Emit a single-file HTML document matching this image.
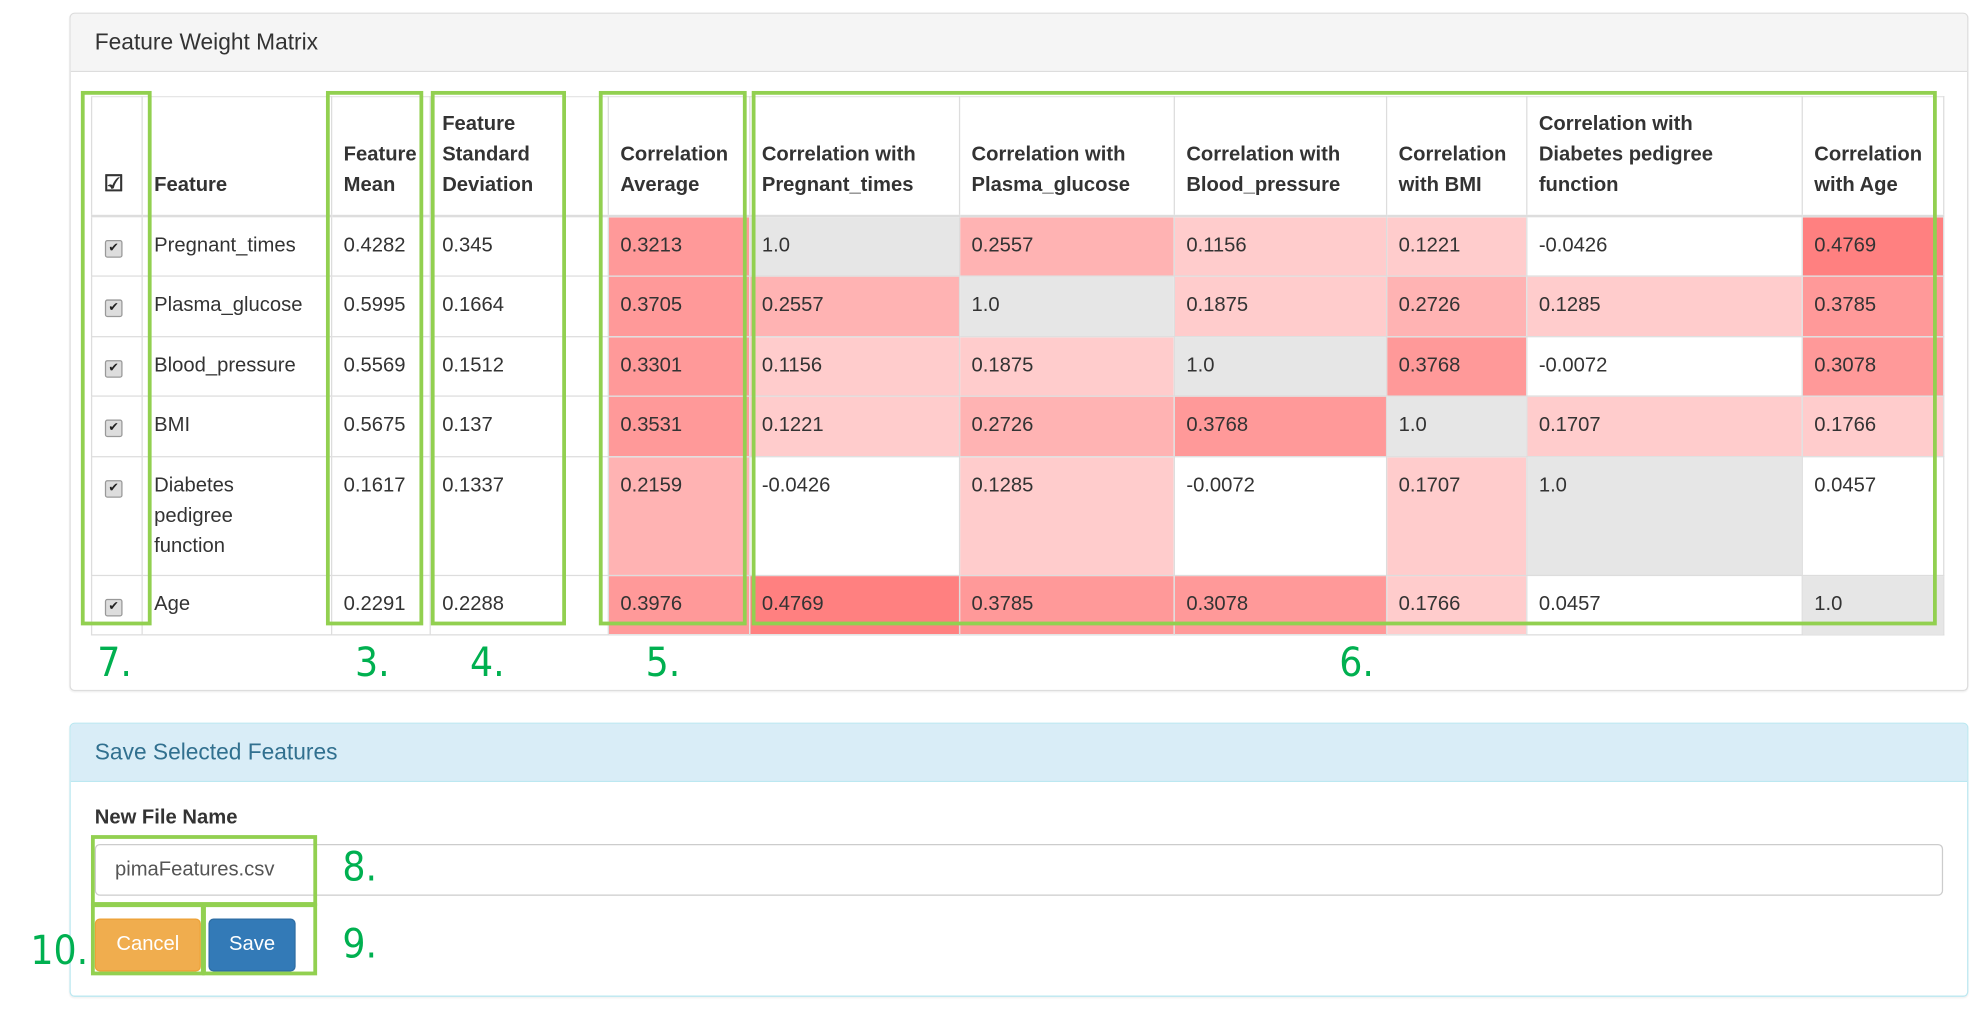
<!DOCTYPE html>
<html><head><meta charset="utf-8">
<style>
html,body{margin:0;padding:0;background:#fff;width:1981px;height:1015px;overflow:hidden;}
#wrap{position:absolute;left:0;top:0;width:1568px;height:804px;transform:scale(1.2634);transform-origin:0 0;font-family:"Liberation Sans",Arial,sans-serif;color:#333;}
.panel{position:absolute;border:1px solid #ddd;border-radius:4px;background:#fff;box-shadow:0 1px 1px rgba(0,0,0,.05);}
.ph{height:45px;border-bottom:1px solid #ddd;background:#f5f5f5;font-size:18px;line-height:45px;padding-left:19px;color:#333;border-radius:3px 3px 0 0;}
table{position:absolute;left:16px;top:65px;border-collapse:collapse;table-layout:fixed;font-size:16px;}
td,th{border:1px solid #ddd;box-sizing:border-box;padding:0 9px;line-height:24px;vertical-align:top;overflow:hidden;white-space:nowrap;}
th{text-align:left;vertical-align:bottom;padding-bottom:11px;border-top:1px solid #e6e6e6;border-bottom:2px solid #ddd;white-space:normal;}
td{padding-top:11px;}
.g{position:absolute;border:3px solid #92d050;box-sizing:border-box;}
.n{position:absolute;color:#00b050;font-size:32px;font-family:"DejaVu Sans Condensed","Liberation Sans",sans-serif;line-height:32px;}
.cb{display:inline-block;width:12px;height:12px;border:1px solid #999;border-radius:2px;background:#ddd;font-size:10px;line-height:12px;text-align:center;color:#222;margin-left:1px;}
</style></head><body>
<div id="wrap">
 <div class="panel" style="left:55px;top:10px;width:1501px;height:535px;">
  <div class="ph">Feature Weight Matrix</div>
  <table id="tbl"></table>
 </div>
 <div class="panel" style="left:55px;top:572px;width:1501px;height:215px;border-color:#bce8f1;">
  <div class="ph" style="background:#d9edf7;color:#31708f;border-bottom-color:#bce8f1;">Save Selected Features</div>
  <div style="position:absolute;left:19px;top:66px;font-size:16px;font-weight:bold;">New File Name</div>
  <div style="position:absolute;left:19px;top:95px;width:1463px;height:41px;border:1px solid #ccc;border-radius:4px;box-sizing:border-box;font-size:16px;line-height:39px;padding-left:15px;color:#555;">pimaFeatures.csv</div>
  <div style="position:absolute;left:19px;top:154px;width:84px;height:42px;background:#f0ad4e;border:1px solid #eea236;border-radius:4px;box-sizing:border-box;color:#fff;font-size:16px;line-height:40px;text-align:center;">Cancel</div>
  <div style="position:absolute;left:109px;top:154px;width:69px;height:42px;background:#337ab7;border:1px solid #2e6da4;border-radius:4px;box-sizing:border-box;color:#fff;font-size:16px;line-height:40px;text-align:center;">Save</div>
 </div>
 <div class="g" style="left:64px;top:72px;width:56px;height:423px;"></div>
 <div class="g" style="left:258px;top:72px;width:77px;height:423px;"></div>
 <div class="g" style="left:341px;top:72px;width:107px;height:423px;"></div>
 <div class="g" style="left:474px;top:72px;width:117px;height:423px;"></div>
 <div class="g" style="left:595px;top:72px;width:938px;height:423px;"></div>
 <div class="g" style="left:72px;top:661px;width:179px;height:56px;"></div>
 <div class="g" style="left:72px;top:715px;width:90px;height:57px;"></div>
 <div class="g" style="left:160px;top:715px;width:91px;height:57px;"></div>
 <div class="n" style="left:77px;top:508px;">7.</div>
 <div class="n" style="left:281px;top:508px;">3.</div>
 <div class="n" style="left:372px;top:508px;">4.</div>
 <div class="n" style="left:511px;top:508px;">5.</div>
 <div class="n" style="left:1060px;top:508px;">6.</div>
 <div class="n" style="left:271px;top:670px;">8.</div>
 <div class="n" style="left:271px;top:731px;">9.</div>
 <div class="n" style="left:24px;top:736px;">10.</div>
</div>
<script>
const features = ["Pregnant_times","Plasma_glucose","Blood_pressure","BMI","Diabetes pedigree function","Age"];
const means = ["0.4282","0.5995","0.5569","0.5675","0.1617","0.2291"];
const stds = ["0.345","0.1664","0.1512","0.137","0.1337","0.2288"];
const corrAvg = ["0.3213","0.3705","0.3301","0.3531","0.2159","0.3976"];
const corrHeaders = ["Correlation with Pregnant_times","Correlation with Plasma_glucose","Correlation with Blood_pressure","Correlation with BMI","Correlation with Diabetes pedigree function","Correlation with Age"];
const corr = [
 ["1.0","0.2557","0.1156","0.1221","-0.0426","0.4769"],
 ["0.2557","1.0","0.1875","0.2726","0.1285","0.3785"],
 ["0.1156","0.1875","1.0","0.3768","-0.0072","0.3078"],
 ["0.1221","0.2726","0.3768","1.0","0.1707","0.1766"],
 ["-0.0426","0.1285","-0.0072","0.1707","1.0","0.0457"],
 ["0.4769","0.3785","0.3078","0.1766","0.0457","1.0"]
];
const colW=[40,150,78,141,112,166,170,168,111,218,112];
const rowH=[48,48,47,48,94,47];
const hdrBr=["Correlation with<br>Pregnant_times","Correlation with<br>Plasma_glucose","Correlation with<br>Blood_pressure","Correlation<br>with BMI","Correlation with<br>Diabetes pedigree<br>function","Correlation<br>with Age"];
function color(v){const x=parseFloat(v);if(x>=0.999)return"#e6e6e6";if(x>=0.45)return"#ff8080";if(x>=0.3)return"#ff9999";if(x>=0.2)return"#ffb3b3";if(x>=0.1)return"#ffcccc";return"#ffffff";}
function avgColor(v){return parseFloat(v)<0.25?"#ffb3b3":"#ff9999";}
const t=document.getElementById('tbl');
const cg=document.createElement('colgroup');
colW.forEach(w=>{const c=document.createElement('col');c.style.width=w+'px';cg.appendChild(c);});
t.appendChild(cg);
const hr=document.createElement('tr');hr.style.height='94px';
const heads=['<span style="font-size:18px">&#9745;</span>','Feature','Feature<br>Mean','Feature<br>Standard<br>Deviation','Correlation<br>Average'].concat(hdrBr);
heads.forEach((h,i)=>{const th=document.createElement('th');th.innerHTML=h;


hr.appendChild(th);});
t.appendChild(hr);
features.forEach((f,r)=>{
 const tr=document.createElement('tr');tr.style.height=rowH[r]+'px';
 
 
 const cells=[null,f.replace(/ /g,'<br>'),means[r],stds[r],corrAvg[r]].concat(corr[r]);
 cells.forEach((v,i)=>{const td=document.createElement('td');
  if(i===0){td.innerHTML='<span class="cb">&#10004;</span>';
   
   }
  else{td.innerHTML=v;
   
   }
  if(i===4)td.style.background=avgColor(v);
  if(i>=5)td.style.background=color(v);
  tr.appendChild(td);});
 t.appendChild(tr);
});
</script>
</body></html>
